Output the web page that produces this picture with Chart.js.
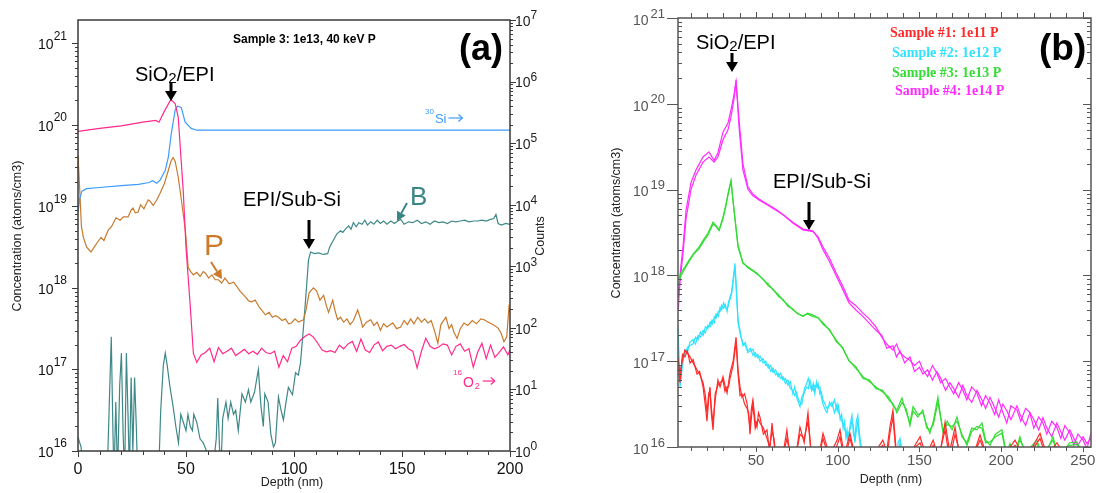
<!DOCTYPE html>
<html>
<head>
<meta charset="utf-8">
<script src="https://cdn.jsdelivr.net/npm/chart.js@4/dist/chart.umd.min.js"></script>
<style>
  html, body { margin: 0; padding: 0; background: #fff; }
  #wrap { position: relative; width: 1096px; height: 493px; overflow: hidden; }
  canvas { position: absolute; top: 0; }
  #chartA { left: 0; }
  #chartB { left: 560px; }
</style>
</head>
<body>
<div id="wrap">
  <canvas id="chartA" width="560" height="493"></canvas>
  <canvas id="chartB" width="536" height="493"></canvas>
</div>
<script>
// ===== SIMS depth profiles, panels (a) and (b) =====
// values are log10 of concentration (atoms/cm3) or of counts

// ---- panel (a): Sample 3, 1e13 40 keV P ----
const siDepth = [0, 0.8, 1.8, 4, 10, 20, 28, 33, 34.5, 36.5,
  38, 40.4, 41.8, 43.2, 45, 46, 47.8, 49.6, 52.4, 55,
  200];
const siLog = [3.88, 4.10, 4.22, 4.26, 4.28, 4.31, 4.33, 4.36, 4.39, 4.35,
  4.40, 4.56, 4.77, 5.16, 5.54, 5.60, 5.58, 5.34, 5.24, 5.21,
  5.21];

const oDepth = [0, 10, 20, 30, 36, 37.5, 40, 43, 45, 46.4,
  48.7, 50, 52, 53.4, 55, 57, 59, 61, 63, 65,
  67, 69, 71, 73, 75, 77, 79, 81, 83, 85,
  87, 89, 91, 93, 95, 97, 99, 101, 103, 105,
  107, 109, 111, 113, 115, 117, 119, 121, 123, 125,
  127, 129, 131, 133, 135, 137, 139, 141, 143, 145,
  147, 149, 151, 153, 155, 157, 159, 161, 163, 165,
  167, 169, 171, 173, 175, 177, 179, 181, 183, 185,
  187, 189, 191, 193, 195, 197, 199, 200];
const oLog = [5.19, 5.24, 5.28, 5.34, 5.37, 5.34, 5.52, 5.71, 5.64, 5.42,
  4.24, 3.31, 2.34, 1.59, 1.44, 1.56, 1.60, 1.67, 1.45, 1.68,
  1.58, 1.62, 1.67, 1.55, 1.60, 1.65, 1.58, 1.62, 1.57, 1.67,
  1.60, 1.58, 1.62, 1.36, 1.55, 1.45, 1.67, 1.70, 1.80, 1.86,
  1.90, 1.85, 1.75, 1.64, 1.61, 1.63, 1.60, 1.72, 1.66, 1.74,
  1.78, 1.62, 1.82, 1.64, 1.60, 1.72, 1.77, 1.63, 1.70, 1.72,
  1.66, 1.70, 1.73, 1.66, 1.62, 1.35, 1.62, 1.83, 1.70, 1.66,
  1.69, 1.74, 1.72, 1.56, 1.70, 1.74, 1.62, 1.66, 1.36, 1.60,
  1.75, 1.50, 1.72, 1.52, 1.60, 1.69, 1.56, 1.64];

const pDepth = [0, 0.8, 1.6, 2.5, 4, 6, 7.5, 9, 10.7, 12,
  14, 15.5, 17.6, 19.5, 21, 23.2, 24.5, 25.5, 26.5, 27.8,
  29, 30.5, 32.5, 33.5, 34.8, 36.5, 38, 40, 41.8, 43,
  44, 45, 46.4, 48, 49.7, 51, 52.2, 53.4, 55, 56.5,
  58, 59, 60.5, 62, 63.5, 65, 66.5, 68, 70, 72,
  73.5, 75, 77.5, 79, 80.3, 82, 84, 86.8, 88.5, 90,
  91.5, 92.8, 94.5, 96, 97.5, 98.8, 100.5, 102, 104.4, 105.5,
  107, 109, 110.5, 112, 113.7, 115, 116, 117.9, 119, 120.2,
  121.5, 123, 124.5, 126, 127.5, 129.5, 131, 131.8, 133.5, 135.5,
  137, 138.5, 140, 141.5, 143, 145.7, 147.5, 149.4, 151, 152.5,
  154, 155.5, 157.3, 159, 160.5, 162, 163.5, 165, 166.6, 168,
  170.3, 171.8, 173, 174, 175.5, 177, 178.7, 180.5, 182.5, 184.5,
  186.5, 188, 190, 192, 194.4, 195.8, 197.2, 198.5, 199.5, 200];
const pLog = [19.63, 19.20, 18.75, 18.62, 18.50, 18.44, 18.50, 18.56, 18.62, 18.58,
  18.71, 18.75, 18.86, 18.83, 18.87, 18.87, 18.95, 18.98, 18.92, 18.93,
  19.02, 18.97, 19.08, 19.06, 19.01, 19.08, 19.16, 19.28, 19.44, 19.55,
  19.60, 19.55, 19.36, 19.05, 18.71, 18.25, 18.20, 18.16, 18.19, 18.14,
  18.20, 18.18, 18.12, 18.16, 18.10, 18.10, 18.06, 18.12, 18.05, 18.07,
  18.02, 17.96, 17.89, 17.84, 17.83, 17.85, 17.76, 17.67, 17.70, 17.64,
  17.66, 17.64, 17.60, 17.62, 17.56, 17.57, 17.62, 17.58, 17.61, 17.72,
  17.94, 18.00, 17.96, 17.85, 17.91, 17.78, 17.70, 17.85, 17.72, 17.61,
  17.64, 17.58, 17.62, 17.55, 17.60, 17.73, 17.60, 17.52, 17.58, 17.61,
  17.54, 17.58, 17.48, 17.56, 17.52, 17.57, 17.50, 17.52, 17.60, 17.55,
  17.62, 17.56, 17.64, 17.58, 17.62, 17.57, 17.60, 17.48, 17.32, 17.55,
  17.64, 17.50, 17.55, 17.46, 17.38, 17.50, 17.57, 17.54, 17.60, 17.56,
  17.62, 17.61, 17.58, 17.55, 17.51, 17.45, 17.34, 17.40, 17.76, 17.70];

const bDepth = [0, 1.4, 2.8, 13.5, 14.4, 15.4, 16.2, 16.7, 17.5, 18.3,
  19.3, 20.1, 20.9, 21.6, 22.4, 23.2, 23.8, 24.6, 25.4, 26.2,
  27, 27.6, 37.3, 38.3, 39.5, 40.4, 41.3, 42.5, 44, 45.3,
  46.5, 47.6, 48.8, 50, 50.9, 52, 53, 53.6, 55, 56.5,
  58, 59.5, 61, 63, 64, 64.7, 65.5, 66.2, 67, 68.5,
  69.5, 70.7, 72, 73, 74.2, 75.9, 77.5, 78.9, 80, 81.7,
  83.5, 84.7, 85.8, 86.5, 88, 89.3, 90.5, 91.4, 92.8, 94,
  95.1, 96.3, 97.4, 99.3, 100.7, 102, 103, 104.4, 105.8, 106.7,
  107.7, 109.5, 111.5, 113.5, 115.6, 116.5, 117.9, 119.8, 121.5, 122.6,
  123.8, 125.3, 126.4, 127.5, 128.8, 130, 131.5, 132.8, 134, 135.5,
  137, 138.5, 140, 141.5, 143, 144.8, 146.5, 148, 149.4, 151,
  153, 155, 157, 159, 161, 163, 165, 167, 169, 171,
  173, 175, 177, 179, 181, 183.3, 185, 187, 189, 191,
  192.5, 193.5, 194.5, 196, 198, 200];
const bLog = [16.17, 16.05, 15.7, 15.7, 16.5, 17.40, 16.2, 15.7, 16.6, 15.7,
  16.8, 17.2, 16.2, 15.7, 17.2, 16.4, 15.7, 16.9, 16.0, 16.9,
  16.3, 15.7, 15.7, 16.5, 17.05, 17.20, 17.05, 16.8, 16.55, 16.3,
  16.1, 16.45, 16.35, 16.25, 16.45, 16.30, 16.25, 16.45, 16.35, 16.15,
  16.1, 16.0, 15.9, 15.9, 16.15, 16.65, 16.05, 15.8, 16.4, 16.6,
  16.4, 16.6, 16.45, 16.5, 16.25, 16.7, 16.6, 16.75, 16.6, 16.72,
  17.0, 16.55, 16.3, 16.7, 16.6, 16.2, 16.05, 16.1, 16.66, 16.5,
  16.38, 16.6, 16.78, 16.69, 16.96, 16.93, 17.08, 17.52, 18.01, 18.34,
  18.44, 18.42, 18.43, 18.41, 18.42, 18.50, 18.57, 18.66, 18.70, 18.68,
  18.72, 18.76, 18.72, 18.80, 18.75, 18.80, 18.78, 18.83, 18.77, 18.81,
  18.78, 18.83, 18.79, 18.82, 18.78, 18.82, 18.79, 18.82, 18.84, 18.78,
  18.81, 18.80, 18.83, 18.79, 18.81, 18.78, 18.82, 18.80, 18.81, 18.79,
  18.82, 18.81, 18.82, 18.83, 18.81, 18.82, 18.82, 18.83, 18.82, 18.84,
  18.85, 18.90, 18.79, 18.77, 18.79, 18.78];

// ---- panel (b): four P doses, two runs each ----
const s4Depth = [2.5, 3, 4, 5.3, 7.2, 10.2, 13.3, 17.6, 21.2, 24.3,
  26.7, 29.8, 32.9, 34.7, 36.5, 37.8, 39.6, 42, 45.1, 48,
  51.8, 57, 62.2, 67, 72.5, 78.7, 84.8, 88, 91, 95,
  99, 103, 106.9, 111, 115.5, 119, 123.4, 127, 130, 133.8,
  136, 138.1, 141, 144.2, 147, 150, 152.1, 155, 158, 160.7,
  163, 166, 168.6, 171, 174, 176.6, 179, 182, 185.2, 188,
  190.5, 193.2, 196, 198.5, 201.1, 203.5, 206, 209.7, 212, 215,
  217.6, 220, 223, 225.6, 228, 231, 234.1, 236.5, 239, 242.1,
  244.5, 247, 250.1, 252.5, 255];
const s4a = [17.75, 17.90, 18.10, 18.33, 18.76, 19.08, 19.23, 19.38, 19.44, 19.34,
  19.43, 19.67, 19.78, 19.93, 20.10, 20.28, 19.73, 19.23, 19.00, 18.93,
  18.88, 18.82, 18.76, 18.70, 18.61, 18.53, 18.51, 18.45, 18.33, 18.20,
  18.03, 17.88, 17.71, 17.65, 17.56, 17.50, 17.40, 17.28, 17.20, 17.13,
  17.20, 17.10, 17.05, 17.01, 16.95, 17.00, 16.90, 16.82, 16.95, 16.86,
  16.75, 16.80, 16.70, 16.62, 16.75, 16.66, 16.55, 16.70, 16.63, 16.48,
  16.60, 16.51, 16.38, 16.55, 16.40, 16.28, 16.48, 16.43, 16.30, 16.45,
  16.40, 16.22, 16.35, 16.28, 16.15, 16.30, 16.23, 16.10, 16.25, 16.16,
  16.02, 16.15, 16.08, 15.98, 16.16];
const s4b = [17.60, 17.80, 18.02, 18.25, 18.66, 19.00, 19.17, 19.32, 19.38, 19.32,
  19.38, 19.58, 19.70, 19.85, 20.05, 20.25, 19.82, 19.30, 19.03, 18.95,
  18.89, 18.83, 18.77, 18.70, 18.62, 18.54, 18.52, 18.43, 18.30, 18.16,
  18.00, 17.84, 17.68, 17.60, 17.52, 17.45, 17.36, 17.30, 17.15, 17.18,
  17.05, 17.12, 16.98, 17.05, 16.88, 16.93, 16.85, 16.90, 16.78, 16.88,
  16.80, 16.66, 16.75, 16.68, 16.58, 16.72, 16.60, 16.52, 16.66, 16.56,
  16.45, 16.58, 16.46, 16.35, 16.50, 16.42, 16.32, 16.48, 16.36, 16.25,
  16.40, 16.32, 16.20, 16.34, 16.22, 16.12, 16.28, 16.18, 16.08, 16.20,
  16.10, 16.02, 16.12, 16.04, 16.10];

const s3Depth = [2.5, 4.1, 6.5, 9, 12, 15.1, 18, 20.6, 23.7, 25.5,
  27.4, 29.8, 31.5, 32.9, 34.7, 36.5, 39, 42, 45, 48.1,
  51, 54.3, 57.5, 60.4, 63.5, 66.5, 69.5, 72.5, 75.5, 78.7,
  81.5, 84.8, 88, 91, 95, 99, 103, 106.9, 111, 115.5,
  119.5, 123.4, 127.5, 131.3, 134, 136.2, 139.3, 142, 144.2, 146.1,
  149, 152.1, 154.5, 156.4, 158.5, 161.3, 164.4, 167, 170, 173,
  176, 179.1, 182, 185.2, 188.3, 190.5, 193.2, 196.5, 200.5, 203,
  205.4, 208, 211.5, 215, 218, 221.9, 225, 228, 231.7, 235,
  238, 242, 246.4, 250, 253];
const s3a = [17.95, 18.03, 18.10, 18.18, 18.26, 18.33, 18.42, 18.49, 18.62, 18.58,
  18.53, 18.68, 18.82, 18.96, 19.11, 18.76, 18.33, 18.14, 18.10, 18.06,
  18.02, 17.95, 17.90, 17.83, 17.78, 17.71, 17.66, 17.60, 17.56, 17.52,
  17.56, 17.54, 17.50, 17.45, 17.36, 17.25, 17.15, 17.01, 16.92, 16.82,
  16.76, 16.70, 16.64, 16.58, 16.48, 16.43, 16.57, 16.40, 16.28, 16.47,
  16.38, 16.40, 16.25, 16.16, 16.30, 16.58, 16.17, 16.30, 16.20, 16.35,
  16.12, 16.05, 16.22, 16.20, 16.28, 16.08, 16.02, 16.15, 16.20, 15.95,
  16.00, 15.90, 16.12, 15.90, 16.00, 16.08, 15.90, 15.95, 16.12, 15.90,
  15.95, 16.05, 16.06, 15.90, 15.95];
const s3b = [17.90, 18.00, 18.08, 18.16, 18.25, 18.31, 18.40, 18.47, 18.60, 18.57,
  18.52, 18.66, 18.80, 18.94, 19.09, 18.78, 18.35, 18.15, 18.09, 18.05,
  18.01, 17.96, 17.88, 17.84, 17.76, 17.72, 17.64, 17.61, 17.55, 17.53,
  17.55, 17.52, 17.51, 17.43, 17.37, 17.23, 17.16, 17.00, 16.94, 16.80,
  16.78, 16.68, 16.66, 16.55, 16.50, 16.40, 16.52, 16.44, 16.25, 16.42,
  16.35, 16.43, 16.22, 16.20, 16.26, 16.52, 16.20, 16.26, 16.24, 16.30,
  16.15, 16.02, 16.18, 16.24, 16.22, 16.05, 16.06, 16.12, 16.16, 15.92,
  16.04, 15.90, 16.08, 15.95, 15.96, 16.04, 15.92, 15.98, 16.08, 15.90,
  15.98, 16.02, 16.03, 15.92, 15.98];

const s2Depth = [2.3, 2.9, 3.5, 5, 6.5, 8, 9.5, 11.4, 13, 14.5,
  16, 17.6, 19, 20.5, 22, 23.1, 24.5, 25.5, 27, 28,
  29, 30.2, 31.2, 32.3, 33.2, 34.1, 35, 35.6, 36.4, 37.1,
  38, 39, 40.5, 42, 43.5, 45, 46.5, 48.1, 49.5, 51,
  52.5, 54.3, 56, 57.5, 59, 60.4, 62, 63.5, 65, 66.5,
  68, 69.5, 71, 72.5, 73.7, 74.8, 76, 76.9, 78, 79,
  80, 81, 82, 83, 84, 85, 86, 87, 88, 89.1,
  90, 91, 92.2, 93.4, 95, 96.5, 98, 99.6, 100.5, 101.5,
  102.4, 103.3, 104.2, 105, 105.7, 106.4, 107.5, 108.7, 109.6, 110.5,
  111.4, 112.3, 113.2, 114, 115, 116, 118, 125, 136, 137,
  138.1, 139, 140, 150, 255];
const s2a = [17.40, 17.01, 16.70, 16.95, 17.13, 17.10, 17.22, 17.25, 17.20, 17.30,
  17.28, 17.36, 17.33, 17.42, 17.40, 17.48, 17.45, 17.55, 17.52, 17.63,
  17.60, 17.68, 17.62, 17.60, 17.66, 17.75, 17.80, 17.90, 18.02, 18.14,
  17.85, 17.45, 17.30, 17.21, 17.18, 17.12, 17.15, 17.07, 17.10, 17.04,
  17.06, 16.98, 17.00, 16.92, 16.95, 16.87, 16.90, 16.82, 16.86, 16.78,
  16.80, 16.72, 16.76, 16.62, 16.70, 16.58, 16.52, 16.47, 16.58, 16.62,
  16.70, 16.74, 16.80, 16.72, 16.66, 16.74, 16.62, 16.76, 16.68, 16.70,
  16.58, 16.50, 16.44, 16.40, 16.52, 16.47, 16.55, 16.42, 16.48, 16.32,
  16.38, 16.22, 16.30, 16.12, 16.20, 16.08, 16.25, 16.37, 16.15, 16.10,
  16.30, 16.37, 16.18, 16.05, 15.95, 15.90, 15.85, 15.85, 15.90, 16.05,
  16.10, 16.00, 15.90, 15.85, 15.85];
const s2b = [17.30, 16.90, 16.80, 17.05, 17.08, 17.16, 17.18, 17.20, 17.28, 17.25,
  17.34, 17.30, 17.40, 17.38, 17.46, 17.43, 17.52, 17.50, 17.58, 17.58,
  17.65, 17.62, 17.66, 17.58, 17.70, 17.72, 17.78, 17.86, 17.98, 18.10,
  17.80, 17.48, 17.33, 17.18, 17.22, 17.10, 17.12, 17.14, 17.05, 17.08,
  17.00, 17.03, 16.95, 16.96, 16.88, 16.92, 16.84, 16.86, 16.80, 16.82,
  16.74, 16.78, 16.68, 16.66, 16.60, 16.64, 16.55, 16.52, 16.50, 16.60,
  16.66, 16.70, 16.68, 16.78, 16.70, 16.66, 16.72, 16.70, 16.74, 16.62,
  16.64, 16.55, 16.50, 16.45, 16.48, 16.52, 16.40, 16.50, 16.40, 16.36,
  16.30, 16.28, 16.20, 16.18, 16.10, 16.15, 16.20, 16.30, 16.25, 16.05,
  16.20, 16.30, 16.10, 16.00, 15.90, 15.85, 15.85, 15.85, 15.85, 15.95,
  16.05, 15.90, 15.85, 15.85, 15.85];

const s1Depth = [2.3, 3.5, 5, 6.5, 8, 9.6, 11.5, 13.9, 15.5, 17.6,
  19, 20, 21, 21.8, 22.7, 23.7, 25, 26.7, 28, 29.8,
  31, 32.3, 33.2, 34.1, 36, 37.8, 39, 40.2, 41.4, 43,
  44.5, 45.5, 46.3, 47.2, 48.1, 49.5, 50.6, 51.5, 52.4, 54.5,
  56.7, 58.3, 59.8, 61, 62.2, 66, 68.9, 71, 74, 76.9,
  79.5, 81.8, 84, 88, 91, 95, 99.6, 101.4, 104, 107.5,
  111, 120, 127.6, 130, 131.9, 133.8, 136, 142, 150.4, 154,
  158.4, 162, 165.7, 168.5, 171.8, 175, 182, 187.1, 192, 200,
  208.5, 215, 223.8, 228, 234.2, 240, 255];
const s1a = [17.04, 16.86, 17.02, 17.13, 17.10, 17.05, 16.98, 16.90, 16.85, 16.75,
  16.60, 16.40, 16.62, 16.66, 16.45, 16.28, 16.55, 16.78, 16.70, 16.82,
  16.72, 16.63, 16.75, 16.86, 17.00, 17.28, 16.90, 16.70, 16.58, 16.62,
  16.51, 16.35, 16.23, 16.45, 16.55, 16.30, 16.23, 16.40, 16.35, 16.15,
  16.20, 15.95, 16.28, 16.05, 15.85, 15.85, 16.20, 15.85, 15.85, 16.23,
  16.05, 16.40, 15.85, 15.85, 16.16, 15.90, 16.08, 16.20, 15.90, 16.16,
  15.85, 15.85, 16.08, 15.95, 16.23, 16.43, 15.90, 15.85, 16.12, 15.90,
  16.08, 15.85, 16.29, 15.95, 16.23, 15.85, 15.85, 16.14, 15.85, 15.85,
  16.08, 15.85, 16.16, 15.90, 16.05, 15.85, 15.85];
const s1b = [16.95, 16.75, 17.08, 17.05, 17.12, 16.98, 17.02, 16.85, 16.88, 16.70,
  16.48, 16.30, 16.55, 16.70, 16.38, 16.20, 16.62, 16.72, 16.75, 16.78,
  16.65, 16.70, 16.70, 16.80, 16.95, 17.22, 16.85, 16.60, 16.62, 16.50,
  16.45, 16.40, 16.15, 16.35, 16.50, 16.22, 16.30, 16.32, 16.28, 16.22,
  16.10, 16.00, 16.18, 16.10, 15.90, 15.85, 16.10, 15.90, 15.85, 16.15,
  16.10, 16.30, 15.90, 15.85, 16.10, 15.85, 16.02, 16.12, 15.85, 16.10,
  15.85, 15.90, 16.02, 15.85, 16.15, 16.35, 15.85, 15.90, 16.05, 15.85,
  16.02, 15.90, 16.20, 15.85, 16.15, 15.90, 15.85, 16.08, 15.85, 15.90,
  16.02, 15.85, 16.10, 15.85, 16.00, 15.90, 15.85];

const legendB = ["Sample #1: 1e11 P", "Sample #2: 1e12 P", "Sample #3: 1e13 P", "Sample #4: 1e14 P"];
const colorsB = ["#ff2a2a", "#2fe2ff", "#33dd33", "#ff2cff"];

// ---- helpers ----
const SANS = "'Liberation Sans', Arial, sans-serif";
const SERIF = "'Liberation Serif', 'Times New Roman', serif";

function pts(depth, logs) {
  return depth.map((d, i) => ({ x: d, y: Math.pow(10, logs[i]) }));
}

function txt(ctx, s, x, y, size, color, o = {}) {
  ctx.save();
  ctx.font = (o.weight || "normal") + " " + size + "px " + (o.family || SANS);
  ctx.fillStyle = color;
  ctx.textAlign = o.align || "left";
  ctx.textBaseline = o.baseline || "middle";
  if (o.rotate) {
    ctx.translate(x, y);
    ctx.rotate(o.rotate);
    ctx.fillText(s, 0, 0);
  } else {
    ctx.fillText(s, x, y);
  }
  const w = ctx.measureText(s).width;
  ctx.restore();
  return w;
}

function width(ctx, s, size, weight) {
  ctx.save();
  ctx.font = (weight || "normal") + " " + size + "px " + SANS;
  const w = ctx.measureText(s).width;
  ctx.restore();
  return w;
}

// "10" with a raised exponent
function powLabel(ctx, x, y, n, o) {
  const wb = width(ctx, "10", o.base);
  const ws = width(ctx, String(n), o.sup);
  const gap = o.gap || 0;
  const x0 = o.align === "right" ? x - wb - gap - ws : x;
  txt(ctx, "10", x0, y + o.dyBase, o.base, o.color);
  txt(ctx, String(n), x0 + wb + gap, y + o.dySup, o.sup, o.color);
}

function line(ctx, x0, y0, x1, y1) {
  ctx.beginPath();
  ctx.moveTo(x0, y0);
  ctx.lineTo(x1, y1);
  ctx.stroke();
}

// decade + minor ticks on a log axis
function logTicks(ctx, scale, x, lo, hi, major, minor) {
  for (let n = lo; n <= hi; n++) {
    for (let k = 1; k <= 9; k++) {
      const v = k * Math.pow(10, n);
      if (v < scale.min * 0.999 || v > scale.max * 1.001) continue;
      const y = Math.round(scale.getPixelForValue(v)) + 0.5;
      const t = k === 1 ? major : minor;
      line(ctx, x + t[0], y, x + t[1], y);
    }
  }
}

function linTicks(ctx, scale, y, from, to, step, len, majorLen) {
  for (let v = from; v <= to; v += step) {
    if (v < scale.min || v > scale.max) continue;
    const x = Math.round(scale.getPixelForValue(v)) + 0.5;
    const l = v % 50 === 0 ? majorLen : len;
    line(ctx, x, y, x, y + l);
  }
}

function downArrow(ctx, x, y0, tip) {
  ctx.save();
  ctx.fillStyle = "#000";
  ctx.strokeStyle = "#000";
  ctx.lineWidth = 3;
  line(ctx, x, y0, x, tip - 8);
  ctx.beginPath();
  ctx.moveTo(x - 6, tip - 10);
  ctx.lineTo(x + 6, tip - 10);
  ctx.lineTo(x, tip);
  ctx.closePath();
  ctx.fill();
  ctx.restore();
}

function slantArrow(ctx, x0, y0, x1, y1, color) {
  const a = Math.atan2(y1 - y0, x1 - x0);
  const hl = 9, hw = 5;
  const bx = x1 - hl * Math.cos(a), by = y1 - hl * Math.sin(a);
  ctx.save();
  ctx.strokeStyle = color;
  ctx.fillStyle = color;
  ctx.lineWidth = 2;
  line(ctx, x0, y0, bx, by);
  ctx.beginPath();
  ctx.moveTo(x1, y1);
  ctx.lineTo(bx + hw * Math.sin(a), by - hw * Math.cos(a));
  ctx.lineTo(bx - hw * Math.sin(a), by + hw * Math.cos(a));
  ctx.closePath();
  ctx.fill();
  ctx.restore();
}

function sio2Label(ctx, x, y) {
  let w = txt(ctx, "SiO", x, y, 20, "#000");
  w += txt(ctx, "2", x + w, y + 4, 15, "#000");
  txt(ctx, "/EPI", x + w, y, 20, "#000");
}

function unitArrow(ctx, x, y, len, color) {
  ctx.save();
  ctx.strokeStyle = color;
  ctx.lineWidth = 1.2;
  line(ctx, x, y, x + len, y);
  line(ctx, x + len - 4, y - 3.5, x + len, y);
  line(ctx, x + len - 4, y + 3.5, x + len, y);
  ctx.restore();
}

// ---- decorations panel (a) ----
const decorA = {
  id: "decorA",
  afterDraw(chart) {
    const ctx = chart.ctx;
    const a = chart.chartArea;
    const { x, y, yc } = chart.scales;
    ctx.save();
    ctx.strokeStyle = "#3a3a3a";
    ctx.lineWidth = 1.5;
    ctx.strokeRect(a.left, a.top, a.right - a.left, a.bottom - a.top);
    ctx.lineWidth = 1;
    logTicks(ctx, y, a.left, 16, 21, [-6, 0], [-3, 0]);
    logTicks(ctx, yc, a.right, 0, 7, [0, 6], [0, 3]);
    linTicks(ctx, x, a.bottom, 0, 200, 10, 4, 6);
    ctx.restore();

    for (let n = 16; n <= 21; n++) {
      powLabel(ctx, 67, y.getPixelForValue(Math.pow(10, n)), n,
        { align: "right", base: 14, sup: 12, dyBase: 2, dySup: -7, color: "#111" });
    }
    for (let n = 0; n <= 7; n++) {
      powLabel(ctx, 515, yc.getPixelForValue(Math.pow(10, n)), n,
        { align: "left", base: 14, sup: 12, dyBase: 2, dySup: -4, color: "#222" });
    }
    [0, 50, 100, 150, 200].forEach(v =>
      txt(ctx, String(v), x.getPixelForValue(v), 470, 16, "#111", { align: "center" }));

    txt(ctx, "Concentration (atoms/cm3)", 18, 236, 12.5, "#222", { align: "center", rotate: -Math.PI / 2 });
    txt(ctx, "Counts", 541, 236, 12.5, "#222", { align: "center", rotate: -Math.PI / 2 });
    txt(ctx, "Depth (nm)", 292, 483, 12.5, "#222", { align: "center" });

    txt(ctx, "Sample 3: 1e13, 40 keV P", 233, 40, 12, "#000", { weight: "bold" });
    txt(ctx, "(a)", 459, 50, 36, "#000", { weight: "bold" });

    sio2Label(ctx, 135, 75);
    downArrow(ctx, 171, 82, 101);
    txt(ctx, "EPI/Sub-Si", 243, 200, 20, "#000");
    downArrow(ctx, 309, 220, 249);

    txt(ctx, "P", 204, 255, 30, "#cc7a2a", { baseline: "alphabetic" });
    slantArrow(ctx, 211, 262, 222, 279, "#cc7a2a");
    txt(ctx, "B", 410, 205, 26, "#3a8585", { baseline: "alphabetic" });
    slantArrow(ctx, 407, 203, 397, 221, "#3a8585");

    let w = txt(ctx, "30", 425, 112, 8, "#3d9cff");
    w += txt(ctx, "Si", 425 + w + 1, 119, 13, "#3d9cff");
    unitArrow(ctx, 425 + w + 3, 118, 14, "#3d9cff");

    w = txt(ctx, "16", 453, 373, 8, "#ff2a8c");
    w += txt(ctx, "O", 453 + w + 1, 383, 14, "#ff2a8c");
    w += txt(ctx, "2", 453 + w + 2, 387, 9, "#ff2a8c");
    unitArrow(ctx, 453 + w + 5, 381, 12, "#ff2a8c");
  }
};

// ---- decorations panel (b) ----
const decorB = {
  id: "decorB",
  afterDraw(chart) {
    const ctx = chart.ctx;
    const a = chart.chartArea;
    const { x, y } = chart.scales;
    ctx.save();
    ctx.strokeStyle = "#555";
    ctx.lineWidth = 1.5;
    ctx.strokeRect(a.left, a.top, a.right - a.left, a.bottom - a.top);
    ctx.lineWidth = 1;
    logTicks(ctx, y, a.left, 16, 21, [-11, 0], [0, 4]);
    logTicks(ctx, y, a.right, 16, 21, [-8, 0], [-4, 0]);
    linTicks(ctx, x, a.bottom, 10, 250, 10, 4, 5);
    linTicks(ctx, x, a.top, 10, 250, 10, -5, -6);
    ctx.restore();

    for (let n = 16; n <= 21; n++) {
      powLabel(ctx, 105, y.getPixelForValue(Math.pow(10, n)), n,
        { align: "right", base: 14, sup: 13, dyBase: 3, dySup: -4, gap: 2, color: "#555" });
    }
    [50, 100, 150, 200, 250].forEach(v =>
      txt(ctx, String(v), x.getPixelForValue(v), 461, 15, "#555", { align: "center" }));

    txt(ctx, "Concentration (atoms/cm3)", 57, 223, 12.5, "#222", { align: "center", rotate: -Math.PI / 2 });
    txt(ctx, "Depth (nm)", 331, 480, 12.5, "#222", { align: "center" });

    const lx = [330, 332, 332, 335];
    const ly = [33, 53, 73, 91];
    legendB.forEach((s, i) =>
      txt(ctx, s, lx[i], ly[i], 14, colorsB[i], { weight: "bold", family: SERIF }));

    txt(ctx, "(b)", 479, 50, 37, "#000", { weight: "bold" });
    sio2Label(ctx, 136, 43);
    downArrow(ctx, 172, 53, 72);
    txt(ctx, "EPI/Sub-Si", 213, 182, 20, "#000");
    downArrow(ctx, 249, 202, 230);
  }
};

function lineSet(label, data, color, order, axis) {
  return { label, data, borderColor: color, borderWidth: 1.2, pointRadius: 0,
    fill: false, tension: 0, order, yAxisID: axis || "y" };
}

const baseOptions = {
  responsive: false,
  animation: false,
  devicePixelRatio: 1,
  plugins: { legend: { display: false }, tooltip: { enabled: false } }
};

new Chart(document.getElementById("chartA"), {
  type: "line",
  data: {
    datasets: [
      lineSet("16O2", pts(oDepth, oLog), "#ff2a8c", 1, "yc"),
      lineSet("30Si", pts(siDepth, siLog), "#3d9cff", 2, "yc"),
      lineSet("P", pts(pDepth, pLog), "#c97a2c", 3),
      lineSet("B", pts(bDepth, bLog), "#3f8888", 4)
    ]
  },
  options: {
    ...baseOptions,
    layout: { padding: { left: 78, top: 20, right: 50, bottom: 42 } },
    scales: {
      x: { type: "linear", min: 0, max: 200, display: false },
      y: { type: "logarithmic", min: 1e16, max: Math.pow(10, 21.285), display: false },
      yc: { type: "logarithmic", min: 1, max: 1e7, display: false, position: "right" }
    }
  },
  plugins: [decorA]
});

new Chart(document.getElementById("chartB"), {
  type: "line",
  data: {
    datasets: [
      lineSet(legendB[0], pts(s1Depth, s1a), colorsB[0], 1),
      lineSet(legendB[0], pts(s1Depth, s1b), colorsB[0], 1),
      lineSet(legendB[1], pts(s2Depth, s2a), colorsB[1], 2),
      lineSet(legendB[1], pts(s2Depth, s2b), colorsB[1], 2),
      lineSet(legendB[2], pts(s3Depth, s3a), colorsB[2], 3),
      lineSet(legendB[2], pts(s3Depth, s3b), colorsB[2], 3),
      lineSet(legendB[3], pts(s4Depth, s4a), colorsB[3], 4),
      lineSet(legendB[3], pts(s4Depth, s4b), colorsB[3], 4)
    ]
  },
  options: {
    ...baseOptions,
    layout: { padding: { left: 118, top: 18, right: 5, bottom: 46 } },
    scales: {
      x: { type: "linear", min: 2.26, max: 255, display: false },
      y: { type: "logarithmic", min: 1e16, max: 1e21, display: false }
    }
  },
  plugins: [decorB]
});
</script>
</body>
</html>
